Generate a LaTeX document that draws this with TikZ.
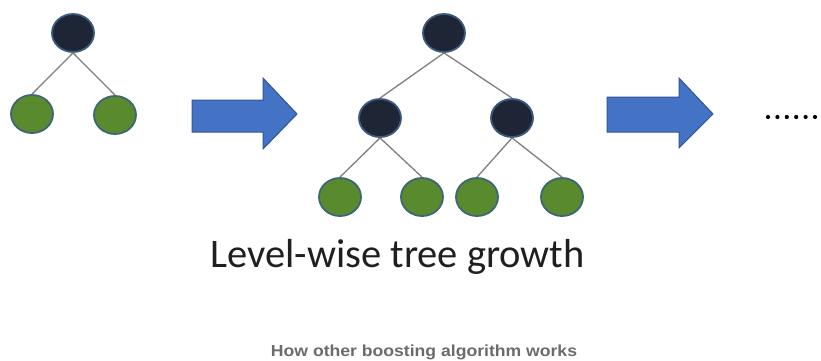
\documentclass[tikz,border=0pt]{standalone}
\usepackage{fontspec}
\setmainfont{Carlito}
\newfontfamily\capfont[FakeStretch=1.1]{Liberation Sans}
\usetikzlibrary{shapes.geometric}
\definecolor{darknode}{HTML}{1E2636}
\definecolor{darkrim}{HTML}{3C5A7E}
\definecolor{greennode}{HTML}{5A8A2E}
\definecolor{greenrim}{HTML}{3F6678}
\definecolor{edgegray}{HTML}{7F7F7F}
\definecolor{arrowfill}{HTML}{4472C4}
\definecolor{arrowrim}{HTML}{2F5597}
\definecolor{captiongray}{HTML}{6B6B6B}
\tikzset{
  inner/.style={ellipse, draw=darkrim, line width=1.8pt, fill=darknode, minimum width=42pt, minimum height=38pt, inner sep=0pt},
  leaf/.style={ellipse, draw=greenrim, line width=1.8pt, fill=greennode, minimum width=42pt, minimum height=38pt, inner sep=0pt},
  link/.style={draw=edgegray, line width=1.3pt},
  bigarrow/.style={fill=arrowfill, draw=arrowrim, line width=1pt, line join=miter},
  dotmark/.style={circle, fill=black, inner sep=0pt, minimum size=4.2pt}
}
\begin{document}
\begin{tikzpicture}[x=1pt,y=-1pt]
\useasboundingbox (0,0) rectangle (821,360);
\clip (0,0) rectangle (821,360);
% tree 1
\node[inner] (r1) at (73,33) {};
\node[leaf] (a1) at (32,114) {};
\node[leaf] (a2) at (115,115) {};
\draw[link] (r1.south) -- (a1.north);
\draw[link] (r1.south) -- (a2.north);
% arrow 1
\draw[bigarrow] (192,100) -- (263,100) -- (263,78) -- (297,114) -- (263,149) -- (263,132) -- (192,132) -- cycle;
% tree 2
\node[inner] (r2) at (444,33) {};
\node[inner] (m1) at (380,118) {};
\node[inner] (m2) at (512,118) {};
\node[leaf] (b1) at (340,197) {};
\node[leaf] (b2) at (422,197) {};
\node[leaf] (b3) at (477,197) {};
\node[leaf] (b4) at (562,197) {};
\draw[link] (r2.south) -- (m1.north);
\draw[link] (r2.south) -- (m2.north);
\draw[link] (m1.south) -- (b1.north);
\draw[link] (m1.south) -- (b2.north);
\draw[link] (m2.south) -- (b3.north);
\draw[link] (m2.south) -- (b4.north);
% arrow 2
\draw[bigarrow] (607,97) -- (679,97) -- (679,78) -- (713,114) -- (679,148) -- (679,132) -- (607,132) -- cycle;
% dots
\foreach \i in {0,...,5} \node[dotmark] (d\i) at (768+9.4*\i,117) {};
% texts
\node[anchor=base, text=black!88, font=\fontsize{40.5}{46}\selectfont] (title) at (397.5,267) {Level-wise tree growth};
\node[anchor=base, text=captiongray, font=\capfont\bfseries\fontsize{16}{19}\selectfont] (cap) at (424,356.5) {How other boosting algorithm works};
\end{tikzpicture}
\end{document}
